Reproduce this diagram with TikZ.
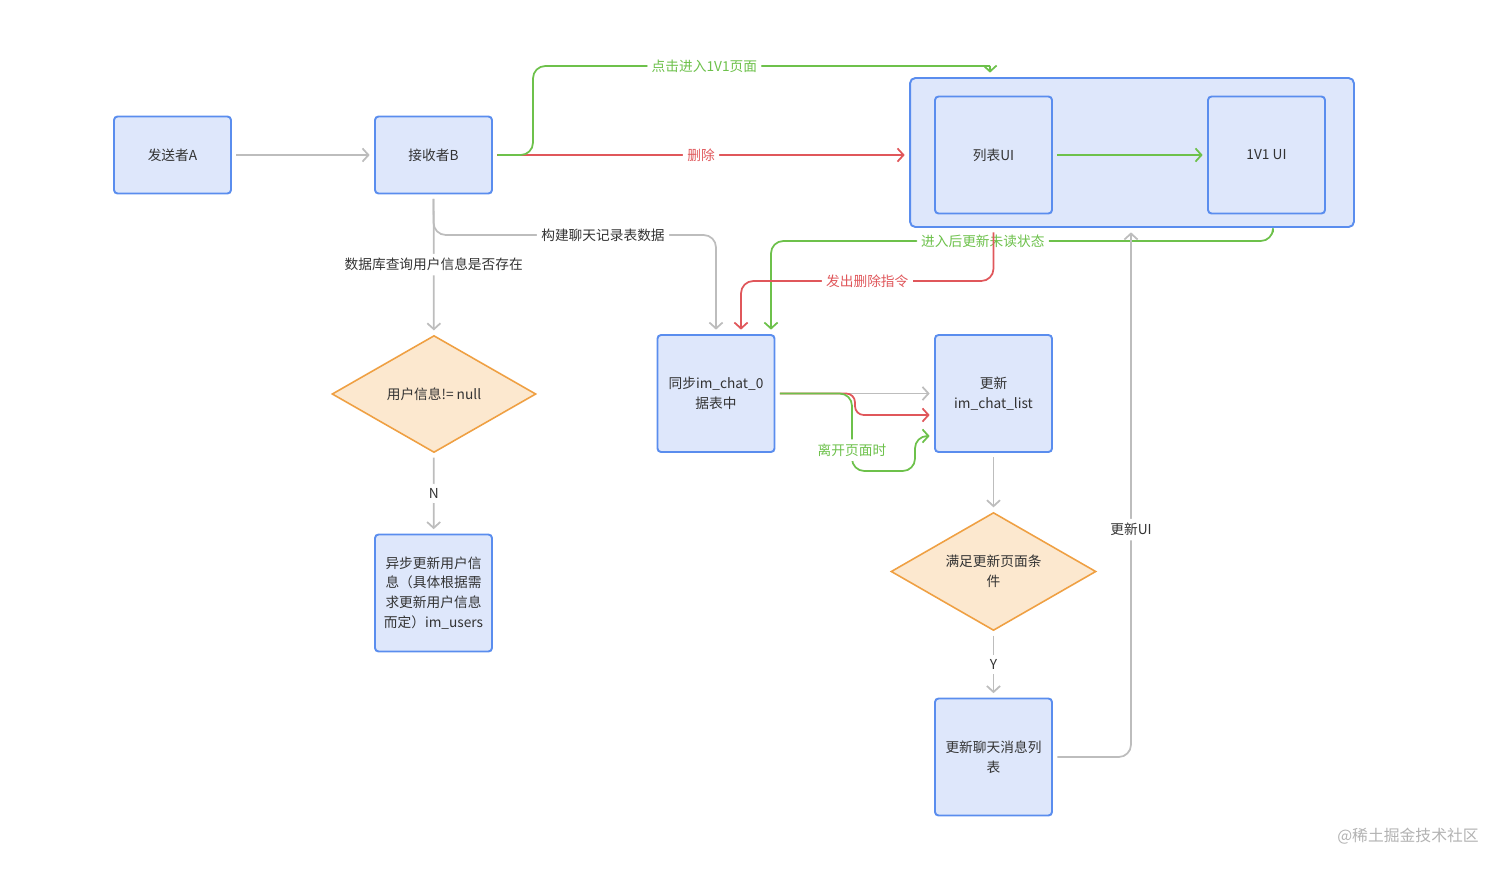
\documentclass[tikz,border=0pt]{standalone}
\usepackage{fontspec}
\setmainfont{Noto Sans CJK SC}
\usepackage{tikz}
\usetikzlibrary{positioning}
\usetikzlibrary{arrows.meta}
\usetikzlibrary{shapes.geometric}
\definecolor{box_fill}{HTML}{DEE7FB}
\definecolor{box_edge}{HTML}{5A8DEE}
\definecolor{cond_fill}{HTML}{FCE8CF}
\definecolor{cond_edge}{HTML}{EFA043}
\definecolor{line_gray}{HTML}{BDBDBD}
\definecolor{line_red}{HTML}{E0575B}
\definecolor{line_green}{HTML}{6DC14B}
\definecolor{text_dark}{HTML}{333333}
\tikzset{my_flow/.style={-{Straight Barb[length=3.4pt,width=7.5pt]},line width=1pt,line join=round,rounded corners=7pt,shorten <=2.5pt,shorten >=2.5pt}}
\tikzset{my_gray/.style={my_flow,draw=line_gray}}
\tikzset{my_red/.style={my_flow,draw=line_red}}
\tikzset{my_green/.style={my_flow,draw=line_green}}
\tikzset{my_box/.style={rectangle,rounded corners=2pt,draw=box_edge,fill=box_fill,line width=1.1pt,minimum width=2.34cm,minimum height=2.34cm,align=center,text=text_dark,font=\fontsize{7.8pt}{11.3pt}\selectfont}}
\tikzset{my_cond/.style={diamond,aspect=1.74,draw=cond_edge,fill=cond_fill,line width=0.9pt,inner sep=0pt,minimum width=4.08cm,minimum height=2.34cm,align=center,text=text_dark,font=\fontsize{7.8pt}{11.3pt}\selectfont}}
\tikzset{my_label/.style={fill=white,inner sep=2.5pt,font=\fontsize{7.8pt}{10pt}\selectfont,text=text_dark}}

\begin{document}
\begin{tikzpicture}[x=0.02cm,y=-0.02cm]
    \useasboundingbox (0,0) rectangle (1512,870);
    %\draw[help lines,step=100] (0,0) grid (1512,870);
    \node[my_box,minimum height=1.54cm] (send) at (172.5,155) {发送者A};
    \node[my_box,minimum height=1.54cm] (recv) at (433.5,155) {接收者B};
    \node[my_box,rounded corners=3pt,minimum width=8.88cm,minimum height=2.98cm] (frame) at (1132,152.5) {};
    \node[my_box] (list_ui) at (993.5,155) {列表UI};
    \node[my_box] (one_ui) at (1266.5,155) {1V1 UI};
    \node[my_cond] (check) at (434,394) {用户信息!= null};
    \node[my_box] (async) at (433.5,593) {异步更新用户信\\息（具体根据需\\求更新用户信息\\而定）im\_users};
    \node[my_box] (sync) at (716,393.5) {同步im\_chat\_0\\据表中};
    \node[my_box] (update) at (993.5,393.5) {更新\\im\_chat\_list};
    \node[my_cond,minimum width=4.1cm,minimum height=2.36cm] (cond) at (993.5,571.5) {满足更新页面条\\件};
    \node[my_box] (msg_list) at (993.5,757) {更新聊天消息列\\表};
    \node[text=gray!60,font=\fontsize{9pt}{10pt}\selectfont] (mark) at (1408,836) {@稀土掘金技术社区};

    \coordinate (top_bend) at (533,66);
    \coordinate (top_drop) at (990,66);
    \coordinate (build_bend) at (716,235);
    \coordinate (unread_right) at (1273,241);
    \coordinate (unread_left) at (771,241);
    \coordinate (del_bend) at (741,281);
    \coordinate (red_turn) at (855,415);
    \coordinate (leave_low) at (852,471);
    \coordinate (leave_up) at (915,436);
    \coordinate (ui_turn) at (1131,756);

    \draw[my_gray] (send) -- (recv);
    \draw[my_red] (recv.east) -- node[my_label,text=line_red] {删除} (recv.east -| frame.west);
    \draw[my_green,-,shorten >=0pt] (recv.east) -- (recv.east -| top_bend) -- (top_bend)
        -- node[my_label,text=line_green,pos=0.375] {点击进入1V1页面} (top_drop);
    \draw[my_green,shorten <=0pt,sharp corners] (top_drop) -- (top_drop |- frame.north);
    \draw[my_green] (list_ui) -- (one_ui);

    \draw[my_gray] (recv) -- node[my_label] {数据库查询用户信息是否存在} (check);
    \draw[my_gray] (recv.south) -- (recv.south |- build_bend)
        -- node[my_label,pos=0.6] {构建聊天记录表数据} (build_bend) -- (sync.north -| build_bend);
    \draw[my_gray] (check) -- node[my_label] {N} (async);

    \draw[my_green] (unread_right |- frame.south) -- (unread_right)
        -- node[my_label,text=line_green,pos=0.578] {进入后更新未读状态} (unread_left) -- (unread_left |- sync.north);
    \draw[my_red] (list_ui.south |- frame.south) -- (list_ui.south |- del_bend)
        -- node[my_label,text=line_red] {发出删除指令} (del_bend) -- (del_bend |- sync.north);

    \draw[my_gray] (sync) -- (update);
    \draw[my_red,rounded corners=5pt] (sync.east) -- (sync.east -| red_turn) -- (red_turn) -- (red_turn -| update.west);
    \draw[my_green] (sync.east) -- (sync.east -| leave_low)
        -- node[my_label,text=line_green,pos=0.73] {离开页面时} (leave_low) -- (leave_low -| leave_up) -- (leave_up) -- (leave_up -| update.west);

    \draw[my_gray] (update) -- (cond);
    \draw[my_gray] (cond) -- node[my_label] {Y} (msg_list);
    \draw[my_gray] (msg_list.east) -- (msg_list.east -| ui_turn)
        -- node[my_label,pos=0.43] {更新UI} (ui_turn |- frame.south);
\end{tikzpicture}
\end{document}
